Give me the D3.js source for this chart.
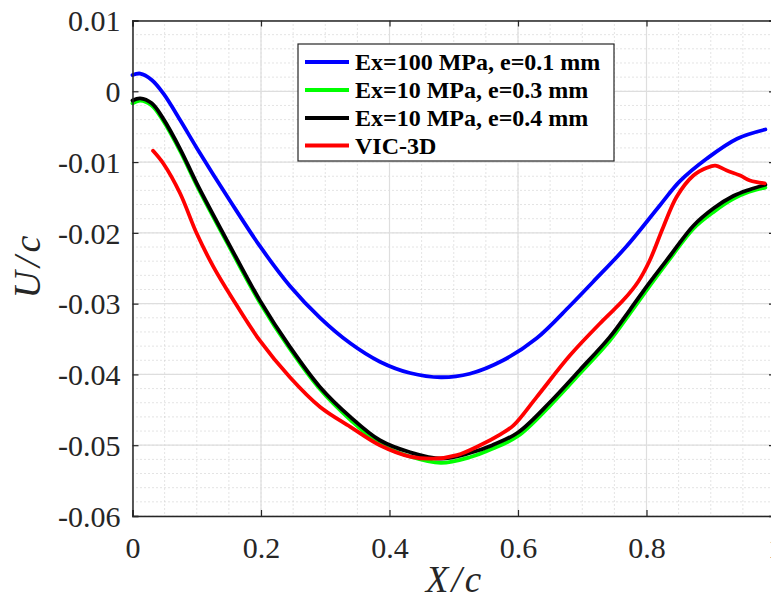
<!DOCTYPE html>
<html>
<head>
<meta charset="utf-8">
<script src="https://cdn.jsdelivr.net/npm/d3@7"></script>
<style>
  html, body { margin: 0; padding: 0; background: #fff; overflow: hidden; }
  svg { display: block; }
</style>
</head>
<body>
<svg id="chart" width="771" height="600"></svg>
<script>
// ---------- data ----------
const seriesNames = ["Ex=100 MPa, e=0.1 mm", "Ex=10 MPa, e=0.3 mm", "Ex=10 MPa, e=0.4 mm", "VIC-3D"];
const seriesColors = ["#0000ff", "#00ff00", "#000000", "#ff0000"];

const blueX = [0, 0.012, 0.03, 0.048, 0.075, 0.1, 0.152, 0.2, 0.245, 0.292, 0.339, 0.385, 0.432, 0.48, 0.525, 0.577, 0.629, 0.681, 0.717, 0.769, 0.821, 0.852, 0.894, 0.941, 0.985];
const blueU = [0.0023, 0.0025, 0.0016, -0.0003, -0.0042, -0.0080, -0.0155, -0.0221, -0.0275, -0.0320, -0.0356, -0.0382, -0.0398, -0.0404, -0.0399, -0.0380, -0.0349, -0.0303, -0.0269, -0.0219, -0.0161, -0.0127, -0.0095, -0.0067, -0.0054];

const blackX = [0, 0.012, 0.03, 0.048, 0.075, 0.1, 0.152, 0.198, 0.245, 0.292, 0.339, 0.385, 0.432, 0.48, 0.525, 0.56, 0.6, 0.65, 0.696, 0.743, 0.774, 0.805, 0.837, 0.873, 0.905, 0.935, 0.96, 0.985];
const blackU = [-0.0013, -0.0010, -0.0017, -0.0039, -0.0083, -0.0130, -0.0219, -0.0295, -0.0361, -0.0418, -0.0460, -0.0493, -0.0510, -0.0519, -0.0511, -0.0500, -0.0482, -0.0439, -0.0394, -0.0347, -0.0309, -0.0270, -0.0232, -0.0190, -0.0165, -0.0148, -0.0139, -0.0132];

const greenX = [0, 0.012, 0.03, 0.048, 0.075, 0.1, 0.152, 0.198, 0.245, 0.292, 0.339, 0.385, 0.432, 0.48, 0.525, 0.56, 0.6, 0.65, 0.696, 0.743, 0.774, 0.805, 0.837, 0.873, 0.905, 0.935, 0.96, 0.985];
const greenU = [-0.0017, -0.0013, -0.0020, -0.0042, -0.0086, -0.0133, -0.0222, -0.0298, -0.0364, -0.0421, -0.0464, -0.0498, -0.0516, -0.0525, -0.0517, -0.0505, -0.0487, -0.0444, -0.0399, -0.0352, -0.0314, -0.0275, -0.0236, -0.0194, -0.0170, -0.0152, -0.0142, -0.0136];

const redX = [0.032, 0.048, 0.074, 0.1, 0.126, 0.155, 0.198, 0.245, 0.292, 0.339, 0.385, 0.432, 0.468, 0.505, 0.541, 0.572, 0.593, 0.629, 0.681, 0.733, 0.764, 0.787, 0.805, 0.826, 0.847, 0.873, 0.894, 0.907, 0.925, 0.946, 0.961, 0.984];
const redU = [-0.0084, -0.0102, -0.0144, -0.0201, -0.0248, -0.0292, -0.0352, -0.0404, -0.0446, -0.0474, -0.0500, -0.0516, -0.0519, -0.0514, -0.0500, -0.0485, -0.0472, -0.0432, -0.0373, -0.0323, -0.0295, -0.0269, -0.0239, -0.0192, -0.0149, -0.0119, -0.0108, -0.0105, -0.0112, -0.0119, -0.0126, -0.0130];

const xTicks = [0, 0.2, 0.4, 0.6, 0.8, 1];
const xTickLabels = ["0", "0.2", "0.4", "0.6", "0.8", "1"];
const yTicks = [-0.06, -0.05, -0.04, -0.03, -0.02, -0.01, 0, 0.01];
const yTickLabels = ["-0.06", "-0.05", "-0.04", "-0.03", "-0.02", "-0.01", "0", "0.01"];
const xMinorTicks = d3.range(0, 1.0001, 0.05);
const yMinorTicks = d3.range(-0.06, 0.01001, 0.002);

// ---------- layout ----------
const L = 132.5, R = 775, T = 20.5, B = 516;
const svg = d3.select("#chart");
const x = d3.scaleLinear().domain([0, 1]).range([L, R]);
const y = d3.scaleLinear().domain([-0.06, 0.01]).range([B, T]);
const font = "'Liberation Serif', 'Times New Roman', serif";
const axisColor = "#262626";

// minor grid (dotted)
const gMinor = svg.append("g");
gMinor.selectAll("line.mx").data(xMinorTicks).join("line")
  .attr("x1", d => x(d)).attr("x2", d => x(d)).attr("y1", T).attr("y2", B)
  .attr("stroke", "#c8c8c8").attr("stroke-width", 1).attr("stroke-dasharray", "1,3");
gMinor.selectAll("line.my").data(yMinorTicks).join("line")
  .attr("x1", L).attr("x2", R).attr("y1", d => y(d)).attr("y2", d => y(d))
  .attr("stroke", "#c8c8c8").attr("stroke-width", 1).attr("stroke-dasharray", "1,3");

// major grid (solid)
const gMajor = svg.append("g");
gMajor.selectAll("line.gx").data(xTicks).join("line")
  .attr("x1", d => x(d)).attr("x2", d => x(d)).attr("y1", T).attr("y2", B)
  .attr("stroke", "#dedede").attr("stroke-width", 1.2);
gMajor.selectAll("line.gy").data(yTicks).join("line")
  .attr("x1", L).attr("x2", R).attr("y1", d => y(d)).attr("y2", d => y(d))
  .attr("stroke", "#dedede").attr("stroke-width", 1.2);

// curves
const line = d3.line().x(d => x(d[0])).y(d => y(d[1])).curve(d3.curveCatmullRom.alpha(0.5));
const seriesData = [
  d3.zip(blueX, blueU),
  d3.zip(greenX, greenU),
  d3.zip(blackX, blackU),
  d3.zip(redX, redU)
];
svg.append("g").selectAll("path").data(seriesData).join("path")
  .attr("d", d => line(d))
  .attr("fill", "none")
  .attr("stroke", (d, i) => seriesColors[i])
  .attr("stroke-width", 3.8)
  .attr("stroke-linejoin", "round")
  .attr("stroke-linecap", "round");

// axes (box with inward ticks)
const axL = d3.axisLeft(y).tickValues(yTicks).tickSize(-6).tickPadding(12)
  .tickFormat((d, i) => yTickLabels[i]);
const axB = d3.axisBottom(x).tickValues(xTicks).tickSize(-6).tickPadding(21)
  .tickFormat((d, i) => xTickLabels[i]);
const axR = d3.axisRight(y).tickValues(yTicks).tickSize(-6).tickFormat("");
const axT = d3.axisTop(x).tickValues(xTicks).tickSize(-6).tickFormat("");

function styleAxis(g) {
  g.attr("font-family", font).attr("font-size", 30);
  g.selectAll("path.domain").attr("stroke", axisColor).attr("stroke-width", 1.5);
  g.selectAll(".tick line").attr("stroke", axisColor).attr("stroke-width", 1.2);
  g.selectAll(".tick text").attr("fill", axisColor)
    .style("font-family", font).style("font-size", "30px");
}
const gL = svg.append("g").attr("transform", `translate(${L},0)`).call(axL).call(styleAxis);
gL.selectAll(".tick text").attr("dy", "0.34em");
const gB = svg.append("g").attr("transform", `translate(0,${B})`).call(axB).call(styleAxis);
gB.selectAll(".tick text").attr("dy", "0.69em");
svg.append("g").attr("transform", `translate(${R},0)`).call(axR).call(styleAxis);
svg.append("g").attr("transform", `translate(0,${T})`).call(axT).call(styleAxis);

// axis titles
svg.append("text")
  .attr("x", 455).attr("y", 592)
  .attr("text-anchor", "middle")
  .style("font-family", font).style("font-size", "37px").style("font-style", "italic")
  .style("letter-spacing", "3px")
  .attr("fill", axisColor)
  .text("X/c");
svg.append("text")
  .attr("transform", "translate(40,265) rotate(-90)")
  .attr("text-anchor", "middle")
  .style("font-family", font).style("font-size", "38px").style("font-style", "italic")
  .style("letter-spacing", "4px")
  .attr("fill", axisColor)
  .text("U/c");

// legend
const lg = svg.append("g");
lg.append("rect").attr("x", 298).attr("y", 44).attr("width", 316).attr("height", 117)
  .attr("fill", "#fff").attr("stroke", axisColor).attr("stroke-width", 1.2);
const rowY = [62, 90, 118, 145.5];
seriesNames.forEach((name, i) => {
  lg.append("line").attr("x1", 305).attr("x2", 349).attr("y1", rowY[i]).attr("y2", rowY[i])
    .attr("stroke", seriesColors[i]).attr("stroke-width", 3.8);
  lg.append("text").attr("x", 355).attr("y", rowY[i] + 8)
    .style("font-family", font).style("font-size", "24px").style("font-weight", "bold")
    .attr("fill", "#000").text(name);
});
</script>
</body>
</html>
